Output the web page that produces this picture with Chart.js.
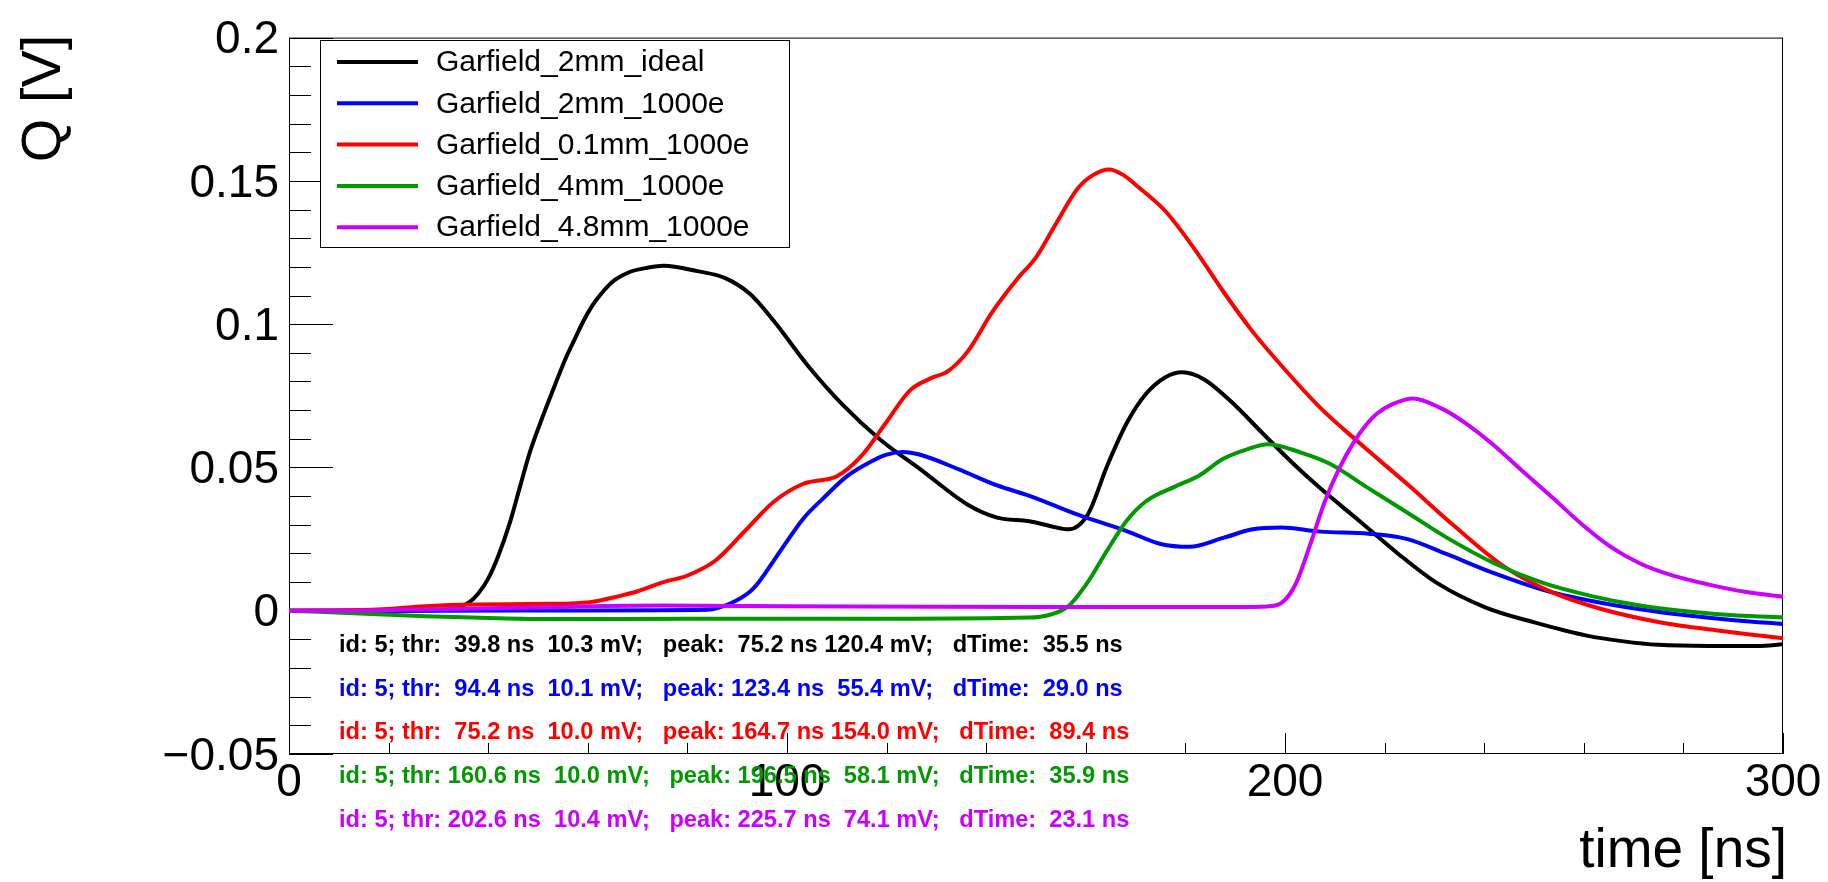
<!DOCTYPE html>
<html>
<head>
<meta charset="utf-8">
<title>Garfield signals</title>
<script src="https://cdn.jsdelivr.net/npm/chart.js@4.4.1/dist/chart.umd.min.js"></script>
<style>
    html, body { margin: 0; padding: 0; background: #fff; }
    #wrap { width: 1828px; height: 882px; }
</style>
</head>
<body>
<div id="wrap"><canvas id="signalChart" width="1828" height="882"></canvas></div>
<script>
const FONT = "'Liberation Sans', Arial, Helvetica, sans-serif";

// series names / colours (same order everywhere below)
const seriesNames = ['Garfield_2mm_ideal', 'Garfield_2mm_1000e', 'Garfield_0.1mm_1000e', 'Garfield_4mm_1000e', 'Garfield_4.8mm_1000e'];
const seriesColors = ['#000000', '#0000ff', '#ff0000', '#009900', '#cc00ff'];

// time [ns] and Q [V] samples
const tIdeal2mm = [0, 20, 32, 36.3, 38, 40, 42, 44.4, 46.5, 48.4, 50.5, 52.4, 55.7, 57.5, 59.1, 60.8, 62.4, 64, 65.5, 68.4, 72, 75.2, 82, 87.7, 92.6, 97.4, 104.2, 111, 118.8, 126.6, 136.3, 142.2, 148.7, 153, 156.5, 160.4, 164.3, 168.2, 172.1, 176, 179.4, 183.7, 189.6, 195.4, 201.3, 207.1, 214.9, 222.7, 230.4, 240.2, 249.9, 260.6, 268, 275, 285, 295, 300];
const qIdeal2mm = [0, 0, 0.0003, 0.0031, 0.0060, 0.0112, 0.0190, 0.0310, 0.0440, 0.0555, 0.0657, 0.0743, 0.0886, 0.0952, 0.1010, 0.1062, 0.1100, 0.1132, 0.1155, 0.1182, 0.1197, 0.1204, 0.1185, 0.1160, 0.1105, 0.1010, 0.0855, 0.0722, 0.0596, 0.0496, 0.0370, 0.0325, 0.0312, 0.0295, 0.0284, 0.0336, 0.0506, 0.0654, 0.0757, 0.0815, 0.0832, 0.0808, 0.0723, 0.0621, 0.0519, 0.0427, 0.0314, 0.0199, 0.0098, 0.0012, -0.0040, -0.0087, -0.0107, -0.0119, -0.0123, -0.0123, -0.0117];

const tBlue2mm = [0, 30, 60, 84, 88.7, 92.6, 94.4, 95.5, 99.4, 103.3, 107.2, 112, 116.9, 120, 123.4, 126.6, 134.4, 142.2, 148.7, 158.4, 168.2, 175, 180.8, 187.6, 193.5, 199.3, 207.1, 216.8, 224.6, 232.4, 242.1, 251.8, 261.6, 271.3, 281, 290.8, 300];
const qBlue2mm = [0, 0, 0.0001, 0.0003, 0.0026, 0.0067, 0.0101, 0.0128, 0.0227, 0.0322, 0.0391, 0.0469, 0.0521, 0.0545, 0.0554, 0.0545, 0.0494, 0.0437, 0.0401, 0.0335, 0.0278, 0.0233, 0.0223, 0.0254, 0.0284, 0.0290, 0.0276, 0.0269, 0.0250, 0.0198, 0.0130, 0.0073, 0.0034, 0.0005, -0.0017, -0.0034, -0.0046];

const tRed01mm = [0, 17.7, 27.4, 37, 51.7, 60.4, 66.3, 70, 75.2, 79.9, 85.7, 91.6, 97.4, 103.3, 110.1, 115, 119.8, 124.7, 128.6, 132.4, 136.3, 141.2, 146.1, 150, 153.6, 158.4, 161.5, 164.7, 167.5, 170.1, 176, 181.8, 187.6, 193.5, 199.3, 207.1, 214.9, 224.6, 234.3, 244.1, 253.8, 263.5, 275.2, 286.9, 300];
const qRed01mm = [0, 0.0004, 0.0016, 0.0022, 0.0024, 0.0030, 0.0051, 0.0068, 0.0100, 0.0122, 0.0176, 0.0279, 0.0381, 0.0443, 0.0470, 0.0541, 0.0654, 0.0769, 0.0809, 0.0837, 0.0905, 0.1042, 0.1155, 0.1233, 0.1338, 0.1474, 0.1521, 0.1540, 0.1521, 0.1485, 0.1394, 0.1263, 0.1114, 0.0974, 0.0855, 0.0708, 0.0586, 0.0441, 0.0291, 0.0153, 0.0063, 0.0006, -0.0040, -0.0069, -0.0096];

const tGreen4mm = [0, 17.7, 27.4, 37, 51.7, 80, 120, 148.7, 152.6, 156.5, 160.4, 164.3, 168.2, 172.1, 177.9, 182.8, 187.6, 192.5, 196.5, 203.2, 209, 216.8, 224.6, 232.4, 242.1, 251.8, 261.6, 271.3, 281, 290.8, 300];
const qGreen4mm = [0, -0.0012, -0.0019, -0.0024, -0.0029, -0.0028, -0.0028, -0.0024, -0.0015, 0.0016, 0.0100, 0.0211, 0.0314, 0.0382, 0.0433, 0.0472, 0.0530, 0.0564, 0.0581, 0.0552, 0.0513, 0.0427, 0.0342, 0.0256, 0.0165, 0.0097, 0.0051, 0.0018, -0.0003, -0.0017, -0.0023];

const tViolet48mm = [0, 9.8, 25.4, 45, 75, 100, 150, 190, 196.4, 199.3, 202.2, 205.1, 208, 211, 213.9, 216, 218.5, 221.7, 225.7, 231.4, 236.3, 242.1, 247.9, 253.8, 259.6, 265.4, 271.3, 277.1, 284.9, 292.7, 300];
const qViolet48mm = [0, 0, 0.0004, 0.0010, 0.0018, 0.0016, 0.0013, 0.0013, 0.0015, 0.0027, 0.0095, 0.0233, 0.0381, 0.0500, 0.0590, 0.0642, 0.0688, 0.0722, 0.0741, 0.0706, 0.0654, 0.0575, 0.0484, 0.0393, 0.0302, 0.0223, 0.0165, 0.0127, 0.0092, 0.0065, 0.0049];

// threshold / peak summary per series
const thrTime = [39.8, 94.4, 75.2, 160.6, 202.6];
const thrVolt = [10.3, 10.1, 10.0, 10.0, 10.4];
const peakTime = [75.2, 123.4, 164.7, 196.5, 225.7];
const peakVolt = [120.4, 55.4, 154.0, 58.1, 74.1];
const dTime = [35.5, 29.0, 89.4, 35.9, 23.1];

// axes
const xTicks = [0, 100, 200, 300];
const xTickLabels = ['0', '100', '200', '300'];
const yTicks = [-0.05, 0, 0.05, 0.1, 0.15, 0.2];
const yTickLabels = ['\u22120.05', '0', '0.05', '0.1', '0.15', '0.2'];
const xTitle = 'time [ns]';
const yTitle = 'Q [V]';

const seriesTimes = [tIdeal2mm, tBlue2mm, tRed01mm, tGreen4mm, tViolet48mm];
const seriesValues = [qIdeal2mm, qBlue2mm, qRed01mm, qGreen4mm, qViolet48mm];

function toPoints(ts, qs) {
    return ts.map((t, i) => ({ x: t, y: qs[i] }));
}

// like printf("%5.1f")
function f51(v) {
    return v.toFixed(1).padStart(5, ' ');
}

// ROOT style frame with inward ticks and axis titles
const rootFrame = {
    id: 'rootFrame',
    beforeDatasetsDraw(chart) {
        const { ctx, chartArea: a, scales: { x, y } } = chart;
        ctx.save();
        ctx.strokeStyle = '#000';
        ctx.lineWidth = 1;
        ctx.strokeRect(a.left + 0.5, a.top + 0.5, a.right - a.left - 1, a.bottom - a.top - 1);
        ctx.beginPath();
        for (let i = -5; i <= 20; i++) {
            const py = Math.round(y.getPixelForValue(i / 100)) + 0.5;
            const len = i % 5 === 0 ? 44 : 22;
            ctx.moveTo(a.left, py);
            ctx.lineTo(a.left + len, py);
        }
        for (let i = 0; i <= 15; i++) {
            const px = Math.round(x.getPixelForValue(i * 20)) + 0.5;
            const len = i % 5 === 0 ? 21 : 11;
            ctx.moveTo(px, a.bottom);
            ctx.lineTo(px, a.bottom - len);
        }
        ctx.stroke();

        ctx.fillStyle = '#000';
        ctx.font = '55px ' + FONT;
        ctx.textAlign = 'right';
        ctx.textBaseline = 'alphabetic';
        ctx.fillText(xTitle, a.right + 4, 867);

        ctx.translate(60, a.top - 3);
        ctx.rotate(-Math.PI / 2);
        ctx.font = '56px ' + FONT;
        ctx.fillText(yTitle, 0, 0);
        ctx.restore();
    }
};

// legend box + summary text lines
const rootLegend = {
    id: 'rootLegend',
    afterDraw(chart) {
        const ctx = chart.ctx;
        ctx.save();
        ctx.fillStyle = '#fff';
        ctx.fillRect(320, 40, 469, 207);
        ctx.strokeStyle = '#000';
        ctx.lineWidth = 1;
        ctx.strokeRect(320.5, 40.5, 469, 207);
        ctx.font = '30px ' + FONT;
        ctx.textBaseline = 'middle';
        chart.data.datasets.forEach((ds, i) => {
            const ly = 62 + i * 41.3;
            ctx.strokeStyle = ds.borderColor;
            ctx.lineWidth = 4;
            ctx.beginPath();
            ctx.moveTo(337, ly);
            ctx.lineTo(418, ly);
            ctx.stroke();
            ctx.fillStyle = '#000';
            ctx.fillText(ds.label, 436, ly + 1);
        });

        ctx.font = 'bold 23.6px ' + FONT;
        ctx.textBaseline = 'alphabetic';
        seriesColors.forEach((c, i) => {
            const txt = 'id: 5; thr: ' + f51(thrTime[i]) + ' ns ' + f51(thrVolt[i]) + ' mV;   peak: ' +
                f51(peakTime[i]) + ' ns ' + f51(peakVolt[i]) + ' mV;   dTime: ' + f51(dTime[i]) + ' ns';
            ctx.fillStyle = c;
            ctx.fillText(txt, 339, 652 + i * 43.7);
        });
        ctx.restore();
    }
};

const ctx = document.getElementById('signalChart').getContext('2d');
new Chart(ctx, {
    type: 'line',
    data: {
        datasets: seriesNames.map((name, i) => ({
            label: name,
            data: toPoints(seriesTimes[i], seriesValues[i]),
            borderColor: seriesColors[i],
            backgroundColor: seriesColors[i],
            borderWidth: 4,
            pointRadius: 0,
            fill: false,
            cubicInterpolationMode: 'monotone',
            borderJoinStyle: 'round',
            order: seriesNames.length - i
        }))
    },
    options: {
        responsive: false,
        animation: false,
        devicePixelRatio: 1,
        layout: { padding: { top: 28, right: 45, bottom: 0, left: 0 } },
        plugins: {
            legend: { display: false },
            tooltip: { enabled: false }
        },
        scales: {
            x: {
                type: 'linear',
                min: 0,
                max: 300,
                grid: { display: false, drawTicks: false },
                border: { display: false },
                afterBuildTicks: s => { s.ticks = xTicks.map(v => ({ value: v })); },
                afterFit: s => { s.height = 128; },
                ticks: {
                    autoSkip: false,
                    maxRotation: 0,
                    padding: 2,
                    color: '#000',
                    font: { family: FONT, size: 46 },
                    callback: (v, i) => xTickLabels[i]
                }
            },
            y: {
                type: 'linear',
                min: -0.05,
                max: 0.2,
                grid: { display: false, drawTicks: false },
                border: { display: false },
                afterBuildTicks: s => { s.ticks = yTicks.map(v => ({ value: v })); },
                afterFit: s => { s.width = 289; },
                ticks: {
                    autoSkip: false,
                    padding: 10,
                    labelOffset: 3,
                    color: '#000',
                    font: { family: FONT, size: 46 },
                    callback: (v, i) => yTickLabels[i]
                }
            }
        }
    },
    plugins: [rootFrame, rootLegend]
});
</script>
</body>
</html>
